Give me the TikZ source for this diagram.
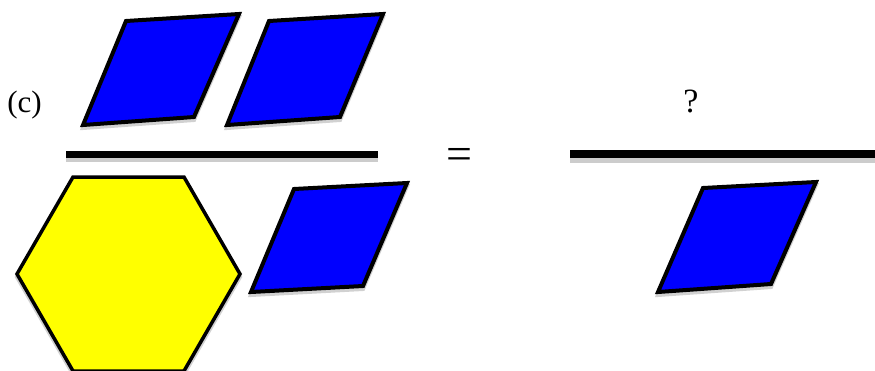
\documentclass[tikz,border=0pt]{standalone}
\usepackage{fontspec}
\setmainfont{Liberation Serif}
\begin{document}
\begin{tikzpicture}[x=1pt,y=-1pt,
  tile/.style={draw=black,line width=4pt,line join=miter},
  bluetile/.style={tile,fill={rgb,255:red,0;green,0;blue,255}},
  yellowtile/.style={tile,fill={rgb,255:red,255;green,255;blue,0},line width=3.5pt},
  shade/.style={fill=black!18,draw=black!18,line width=4pt},
  barline/.style={fill=black},
  barshade/.style={fill=black!20},
  lbl/.style={inner sep=0pt,font=\fontsize{31}{36}\selectfont}]
\useasboundingbox (0,0) rectangle (875,370);
% shadows
\begin{scope}[yshift=-3pt]
  \fill[shade] (126,21) -- (239,14) -- (194,117) -- (83,125) -- cycle;
  \fill[shade] (269,21) -- (383,14) -- (340,117) -- (227,125) -- cycle;
  \fill[shade] (294,189) -- (407,183) -- (363,286) -- (251,292) -- cycle;
  \fill[shade] (703,188) -- (816,182) -- (771,284) -- (658,292) -- cycle;
  \fill[shade] (73,177) -- (184,177) -- (240,274) -- (184,371) -- (73,371) -- (17,274) -- cycle;
\end{scope}
\fill[barshade] (66,157) rectangle (378,162);
\fill[barshade] (570,157) rectangle (875,163);
% bars
\fill[barline] (66,151) rectangle (378,158);
\fill[barline] (570,150) rectangle (875,158);
% tiles
\draw[bluetile] (126,21) -- (239,14) -- (194,117) -- (83,125) -- cycle;
\draw[bluetile] (269,21) -- (383,14) -- (340,117) -- (227,125) -- cycle;
\draw[yellowtile] (73,177) -- (184,177) -- (240,274) -- (184,371) -- (73,371) -- (17,274) -- cycle;
\draw[bluetile] (294,189) -- (407,183) -- (363,286) -- (251,292) -- cycle;
\draw[bluetile] (703,188) -- (816,182) -- (771,284) -- (658,292) -- cycle;
% labels
\node[lbl] (c) at (24.5,105) {(c)};
\node[lbl,font=\fontsize{46}{52}\selectfont] (eq) at (459,158.5) {=};
\node[lbl,font=\fontsize{34}{40}\selectfont] (q) at (691,101) {?};
\end{tikzpicture}
\end{document}
